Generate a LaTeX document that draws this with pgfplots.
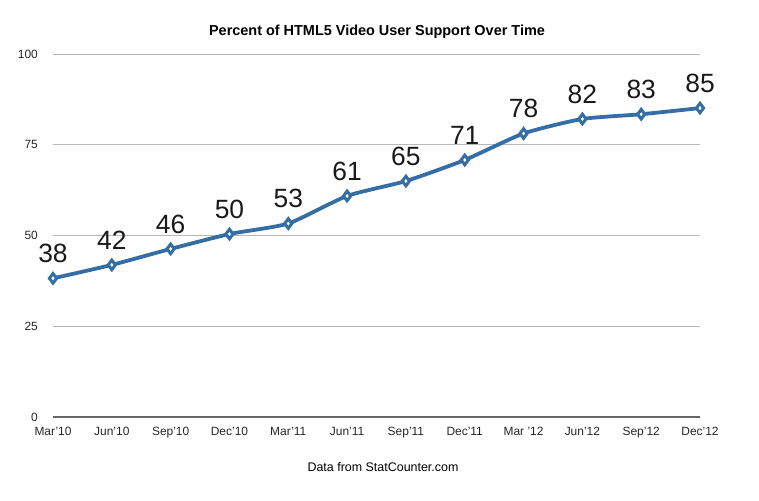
\documentclass[border=0pt]{standalone}
\usepackage{pgfplots}
\pgfplotsset{compat=1.18}
\usepackage{fontspec}
\setmainfont{Liberation Sans}
\definecolor{lineblue}{RGB}{52,110,165}
\begin{document}
\begin{tikzpicture}[x=1bp,y=1bp]
\path (0,0) rectangle (759,501);
\begin{axis}[
  at={(53bp,84bp)}, anchor=south west,
  scale only axis, width=647bp, height=363bp,
  xmin=0, xmax=11, ymin=0, ymax=100,
  enlargelimits=false, clip=false,
  axis line style={draw=none},
  major tick length=0pt,
  xtick={0,...,11},
  xticklabels={Mar'10,Jun'10,Sep'10,Dec'10,Mar'11,Jun'11,Sep'11,Dec'11,Mar '12,Jun'12,Sep'12,Dec'12},
  ytick={25,50,75,100},
  extra y ticks={0},
  extra y tick style={grid style={draw=black!60, line width=1.3bp}},
  ymajorgrids,
  grid style={draw=black!28, line width=0.7bp},
  /pgf/number format/assume math mode=true,
  yticklabel style={anchor=east, inner sep=0pt, xshift=-15bp, font=\fontsize{12}{14}\selectfont, text=black!85},
  xticklabel style={anchor=north, inner sep=0pt, yshift=-10bp, font=\fontsize{12}{14}\selectfont, text=black!85},
  nodes near coords,
  point meta=explicit symbolic,
  every node near coord/.append style={anchor=south, inner sep=0pt, yshift=14bp, font=\fontsize{26.5}{30}\selectfont, text=black!90},
]
\addplot[color=lineblue, line width=3.8bp, smooth, tension=0.35,
  mark=diamond*, mark size=4.8bp,
  mark options={solid, fill=white, draw=lineblue, line width=3bp}]
  coordinates {
  (0,38.2) [38]
  (1,41.9) [42]
  (2,46.3) [46]
  (3,50.4) [50]
  (4,53.3) [53]
  (5,60.9) [61]
  (6,65.0) [65]
  (7,70.8) [71]
  (8,78.1) [78]
  (9,82.1) [82]
  (10,83.4) [83]
  (11,85.1) [85]
  };
\end{axis}
\node[font=\bfseries\fontsize{14.5}{16}\selectfont] at (377,469) {Percent of HTML5 Video User Support Over Time};
\node[font=\fontsize{12.5}{14}\selectfont] at (383,34) {Data from StatCounter.com};
\end{tikzpicture}
\end{document}
